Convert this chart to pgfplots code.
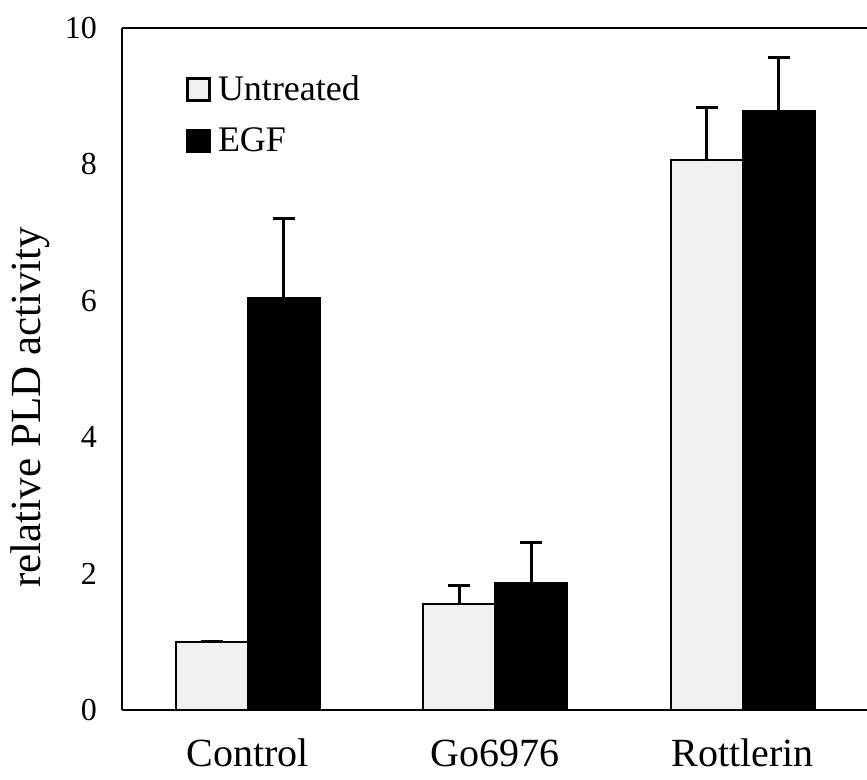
\documentclass[border=0pt]{standalone}
\usepackage{fontspec}
\setmainfont{Liberation Serif}
\usepackage{pgfplots}
\usepackage{pgfplotstable}
\pgfplotsset{compat=1.18}
\pgfplotstableread{
x y e
0 1.00 0
1 1.55 0.28
2 8.06 0.78
}\untreated
\pgfplotstableread{
x y e
0 6.04 1.17
1 1.86 0.59
2 8.78 0.78
}\egf
\begin{document}
\begin{tikzpicture}
\path[use as bounding box] (-61pt,-35pt) rectangle (372.5pt,355pt);
\begin{axis}[
  at={(0pt,0pt)}, anchor=south west,
  scale only axis, width=372.5pt, height=341pt,
  separate axis lines,
  axis x line*=box, axis y line*=left,
  axis line style={line width=1.3pt},
  ymin=0, ymax=10, ytick={0,2,4,6,8,10},
  xmin=-0.508, xmax=2.502,
  xtick={0,1,2}, xticklabels={Control,Go6976,Rottlerin},
  xtick style={draw=none}, ytick style={draw=none},
  major tick length=0pt,
  /pgf/number format/assume math mode=true,
  yticklabel style={font=\fontsize{16}{19}\selectfont, xshift=-9pt},
  xticklabel style={font=\fontsize{20}{24}\selectfont, anchor=base, yshift=-28.5pt},
  ylabel={relative PLD activity},
  ylabel style={at={(axis description cs:-0.1235,0.444)}, anchor=center, font=\fontsize{21.5}{24}\selectfont},
  ybar=0pt, bar width=36pt,
  legend style={at={(axis description cs:0.0859,0.935)}, anchor=north west, draw=none, fill=none,
    inner sep=0pt, font=\fontsize{18}{21}\selectfont, row sep=9pt,
    nodes={inner sep=1.5pt},
    /tikz/every odd column/.append style={column sep=2pt}},
  legend cell align=left,
]
\addplot[draw=black, line width=1.2pt, fill=black!6,
  legend image code/.code={\draw[draw=black, line width=1.3pt, fill=black!6] (0pt,-5.5pt) rectangle (11pt,5.5pt);},
  error bars/.cd, y dir=plus, y explicit,
  error bar style={line width=1.5pt},
  error mark options={rotate=90, line width=1.5pt, mark size=5.5pt}]
  table[x=x, y=y, y error=e] {\untreated};
\addlegendentry{Untreated}
\addplot[draw=black, line width=1.2pt, fill=black,
  legend image code/.code={\draw[draw=black, line width=1.3pt, fill=black] (0pt,-5.5pt) rectangle (11pt,5.5pt);},
  error bars/.cd, y dir=plus, y explicit,
  error bar style={line width=1.5pt},
  error mark options={rotate=90, line width=1.5pt, mark size=5.5pt}]
  table[x=x, y=y, y error=e] {\egf};
\addlegendentry{EGF}
\end{axis}
\end{tikzpicture}
\end{document}
